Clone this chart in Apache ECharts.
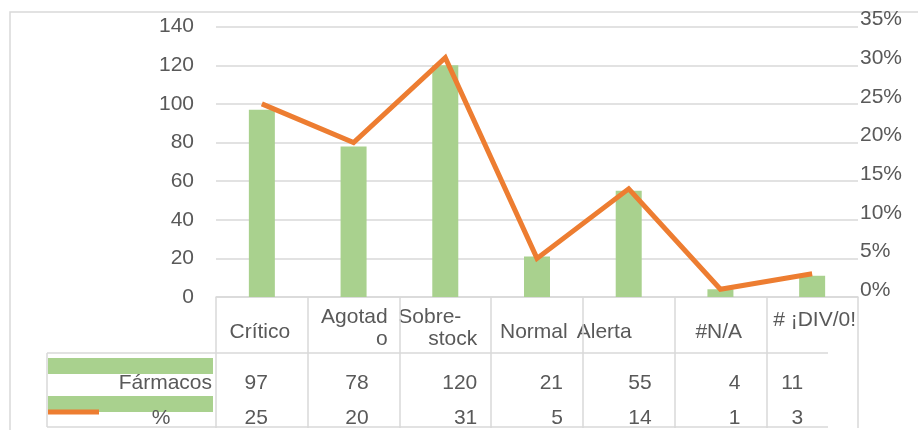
<!DOCTYPE html>
<html><head><meta charset="utf-8">
<script src="https://cdn.jsdelivr.net/npm/echarts@6/dist/echarts.min.js"></script>
<style>html,body{margin:0;padding:0;background:#fff}#c{width:918px;height:430px}</style>
</head><body><div id="c"></div>
<script>
// ---- data ----
const categories = ['Crítico', 'Agotado', 'Sobre-stock', 'Normal', 'Alerta', '#N/A', '# ¡DIV/0!'];
const categoryLines = [['Crítico'], ['Agotad', 'o'], ['Sobre-', 'stock'], ['Normal'], ['Alerta'], ['#N/A'], ['# ¡DIV/0!']];
const farmacos = [97, 78, 120, 21, 55, 4, 11];
const porcentaje = [25, 20, 31, 5, 14, 1, 3];
const seriesNames = ['Fármacos', '%'];

// ---- layout (not data) ----
const FONT = "'Liberation Sans', Arial, sans-serif";
const TXT = '#595959';
const GRID = '#D9D9D9';
const labelLayout = [
  [{dx: -2, y: 332, align: 'center'}],
  [{dx: 34, y: 317, align: 'right'}, {dx: 34, y: 339, align: 'right'}],
  [{dx: -47, y: 317, align: 'left'}, {dx: 32, y: 339, align: 'right'}],
  [{dx: -37, y: 332, align: 'left'}],
  [{dx: -52, y: 332, align: 'left'}],
  [{dx: -25, y: 332, align: 'left'}],
  [{dx: -39, y: 320, align: 'left'}]
];
const valueRightOffset = [6, 15, 32, 26, 23, 20, -9];
const rowY = [383, 418];

const chart = echarts.init(document.getElementById('c'), null, {renderer: 'canvas'});
chart.setOption({
  animation: false,
  backgroundColor: '#fff',
  grid: {left: 216, right: 60, top: 26.7, bottom: 133},
  xAxis: {
    type: 'category',
    data: categories,
    axisLine: {show: true, lineStyle: {color: GRID, width: 1.5}},
    axisTick: {show: true, length: 131, lineStyle: {color: GRID, width: 1.5}},
    axisLabel: {show: false}
  },
  yAxis: [
    {
      type: 'value', min: 0, max: 140, interval: 20,
      axisLine: {show: false}, axisTick: {show: false},
      axisLabel: {color: TXT, fontFamily: FONT, fontSize: 21, margin: 22},
      splitLine: {lineStyle: {color: GRID, width: 1.5}}
    },
    {
      type: 'value', min: 0, max: 0.35, interval: 0.05,
      axisLine: {show: false}, axisTick: {show: false},
      axisLabel: {color: TXT, fontFamily: FONT, fontSize: 21, margin: 2,
        verticalAlign: 'bottom', lineHeight: 14,
        formatter: v => Math.round(v * 100) + '%'},
      splitLine: {show: false}
    }
  ],
  series: [
    {
      name: seriesNames[0], type: 'bar', data: farmacos, barWidth: 26,
      itemStyle: {color: '#A9D18E'}, yAxisIndex: 0
    },
    {
      name: seriesNames[1], type: 'line', data: porcentaje.map(v => v / 100), yAxisIndex: 1,
      showSymbol: false, symbol: 'none',
      lineStyle: {color: '#ED7D31', width: 5, cap: 'butt', join: 'miter'}
    }
  ]
});

// ---- data table drawn below the axis ----
const g = [];
g.push({type: 'rect', shape: {x: 10, y: 12, width: 1000, height: 600}, style: {fill: 'none', stroke: GRID, lineWidth: 1.5}, z: -10, silent: true});
const line = (x1, y1, x2, y2) => ({type: 'line', shape: {x1, y1, x2, y2}, style: {stroke: GRID, lineWidth: 1.5}, silent: true});
g.push(line(47, 353, 828, 353));
g.push(line(47, 427, 828, 427));
g.push(line(47, 353, 47, 427));
// legend keys
g.push({type: 'rect', shape: {x: 48, y: 358, width: 165, height: 16}, style: {fill: '#A9D18E'}, silent: true});
g.push({type: 'rect', shape: {x: 48, y: 396, width: 165, height: 16}, style: {fill: '#A9D18E'}, silent: true});
g.push({type: 'rect', shape: {x: 48, y: 409.5, width: 51, height: 5}, style: {fill: '#ED7D31'}, silent: true});
const txt = (text, x, y, align) => ({type: 'text', x, y, silent: true,
  style: {text, fill: TXT, font: '21px ' + FONT, textAlign: align, textVerticalAlign: 'middle'}});
g.push(txt(seriesNames[0], 212, rowY[0], 'right'));
g.push(txt(seriesNames[1], 161, rowY[1], 'center'));
categories.forEach((c, i) => {
  const cx = chart.convertToPixel({xAxisIndex: 0}, i);
  categoryLines[i].forEach((t, k) => {
    const L = labelLayout[i][k];
    g.push(txt(t, cx + L.dx, L.y, L.align));
  });
  g.push(txt(String(farmacos[i]), cx + valueRightOffset[i], rowY[0], 'right'));
  g.push(txt(String(porcentaje[i]), cx + valueRightOffset[i], rowY[1], 'right'));
});
chart.setOption({graphic: {elements: g}});
</script>
</body></html>
